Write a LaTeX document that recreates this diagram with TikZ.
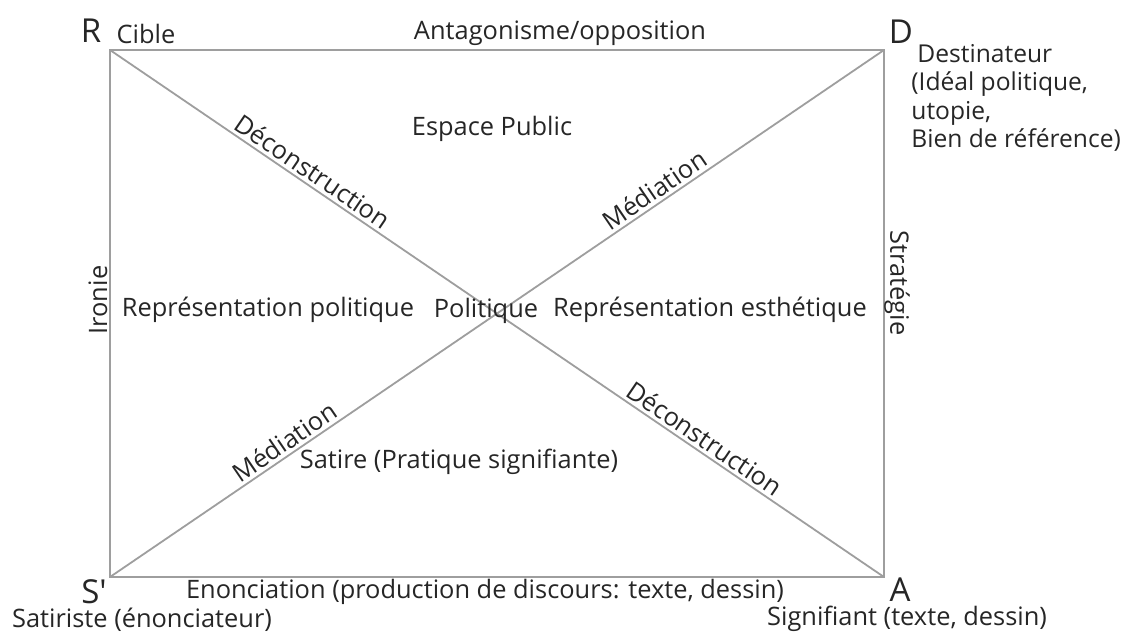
\documentclass[tikz,border=0pt]{standalone}
\usepackage{fontspec}
\setmainfont{Open Sans}
\usepackage{tikz}

\definecolor{linegray}{gray}{0.62}
\definecolor{txtgray}{gray}{0.15}

\begin{document}
\begin{tikzpicture}[x=0.5pt, y=-0.5pt,
    txt/.style={text=txtgray, font=\fontsize{12.7}{14.3}\selectfont, inner sep=0pt},
    corner/.style={text=txtgray, font=\fontsize{16.5}{18}\selectfont, inner sep=0pt},
    frame/.style={draw=linegray, line width=1.1pt},
    diag/.style={draw=linegray, line width=0.9pt}]
    \useasboundingbox (0, 0) rectangle (1127, 633);

    \coordinate (r) at (110, 50);
    \coordinate (d) at (884, 50);
    \coordinate (a) at (884, 577);
    \coordinate (s) at (110, 577);

    \draw[frame] (r) -- (d) -- (a) -- (s) -- cycle;
    \draw[diag] (r) -- node[txt, sloped, above=1.5pt, pos=0.252] (dec1) {Déconstruction}
        node[txt, sloped, above=1.5pt, pos=0.758] (dec2) {Déconstruction} (a);
    \draw[diag] (s) -- node[txt, sloped, above=1.5pt, pos=0.235] (med1) {Médiation}
        node[txt, sloped, above=1.5pt, pos=0.713] (med2) {Médiation} (d);

    \node[corner] (R) at (91, 31) {R};
    \node[corner] (D) at (901, 32) {D};
    \node[corner] (S) at (94, 592) {S\textquotesingle};
    \node[corner] (A) at (900, 590) {A};

    \node[txt] (cible) at (146, 34) {Cible};
    \node[txt] (antag) at (560, 33) {Antagonisme/opposition};
    \node[txt, font=\fontsize{12.3}{14.2}\selectfont, align=left, anchor=north west] (dest) at (911, 44)
        {\hspace{3pt}Destinateur\\(Idéal politique,\\utopie,\\Bien de référence)};
    \node[txt] (espace) at (492, 129) {Espace Public};
    \node[txt, rotate=90] (ironie) at (98, 300) {Ironie};
    \node[txt, rotate=-90] (strat) at (897, 283) {Stratégie};
    \node[txt] (reppol) at (268, 310) {Représentation politique};
    \node[txt] (pol) at (486, 311) {Politique};
    \node[txt] (repest) at (710, 310) {Représentation esthétique};
    \node[txt] (satire) at (459, 462) {Satire (Pratique signifiante)};
    \node[txt] (enon) at (485, 592) {Enonciation (production de discours: texte, dessin)};
    \node[txt] (satiriste) at (142, 620) {Satiriste (énonciateur)};
    \node[txt] (signif) at (907, 619) {Signifiant (texte, dessin)};
\end{tikzpicture}
\end{document}
